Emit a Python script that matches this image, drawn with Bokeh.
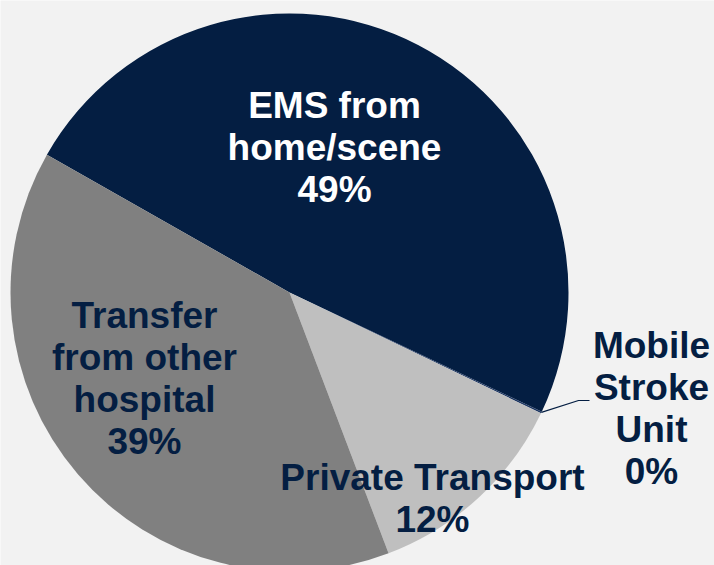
import math
from bokeh.plotting import figure
from bokeh.models import Range1d, ColumnDataSource
from bokeh.core.properties import value
from bokeh.embed import file_html
from bokeh.resources import INLINE

# ---- data ----
categories = ["EMS from home/scene", "Mobile Stroke Unit", "Private Transport", "Transfer from other hospital"]
shares = [48.8, 0.1, 12.1, 39.0]
label_texts = ["EMS from\nhome/scene\n49%", "Mobile\nStroke\nUnit\n0%", "Private Transport\n12%",
               "Transfer\nfrom other\nhospital\n39%"]

# ---- style / layout ----
colors = ["#041e42", "#1f3864", "#bfbfbf", "#808080"]
label_colors = ["#ffffff", "#041e42", "#041e42", "#041e42"]
label_offsets = [(45, 145), (362, -116), (143, -206), (-145, -86)]  # px from pie centre
R = 279
start_deg = 150.4
BG = "#f2f2f2"
NAVY = "#041e42"

total = sum(shares)
starts, ends = [], []
acc = 0.0
for s in shares:
    starts.append(math.radians(start_deg) - acc / total * 2 * math.pi)
    acc += s
    ends.append(math.radians(start_deg) - acc / total * 2 * math.pi)

src = ColumnDataSource(dict(cat=categories, share=shares, start=starts, end=ends, color=colors))

W, H = 714, 565
CX, CY = 289, 292  # pie centre in canvas px (from top-left)
p = figure(width=W, height=H, output_backend="svg", toolbar_location=None,
           x_range=Range1d(-CX, W - CX), y_range=Range1d(-(H - CY), CY),
           x_axis_type=None, y_axis_type=None, min_border=0,
           background_fill_color=BG, border_fill_color=BG, outline_line_color=None)
p.grid.visible = False

p.wedge(x=0, y=0, radius=R, start_angle="start", end_angle="end", direction="clock",
        fill_color="color", line_color=None, source=src)

# leader line for Mobile Stroke Unit
a = (starts[1] + ends[1]) / 2
lx = [R * math.cos(a), 289, 300]
ly = [R * math.sin(a), -108, -108]
p.line(lx, ly, line_color=NAVY, line_width=1.2)

lsrc = ColumnDataSource(dict(x=[o[0] for o in label_offsets], y=[o[1] for o in label_offsets],
                             text=label_texts, color=label_colors))
p.text(x="x", y="y", text="text", text_color="color", source=lsrc,
       text_font=value("Liberation Sans"), text_font_style="bold", text_font_size="37px",
       text_align="center", text_baseline="middle", text_line_height=1.02)

open("out.html", "w").write(file_html(p, INLINE))
